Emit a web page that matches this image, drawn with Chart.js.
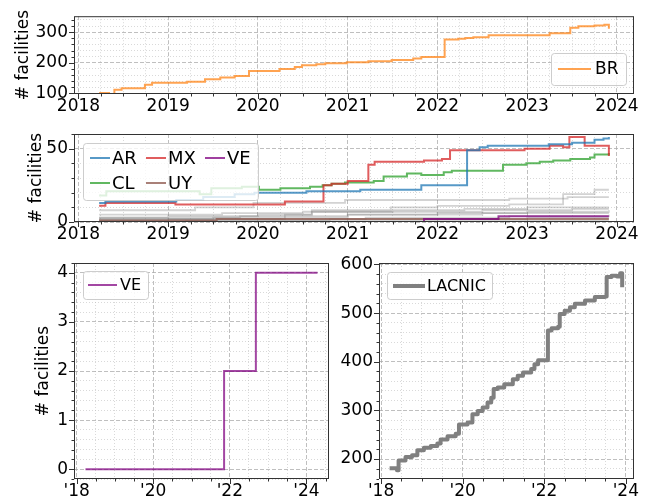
<!DOCTYPE html>
<html>
<head>
<meta charset="utf-8">
<script src="https://cdn.jsdelivr.net/npm/chart.js@4.4.0/dist/chart.umd.min.js"></script>
<style>
  body { margin: 0; background: #fff; }
  .wrap { position: relative; width: 647px; height: 502px; }
  .wrap canvas { position: absolute; left: 0; top: 0; }
</style>
</head>
<body>
<div class="wrap">
  <canvas id="brChart" width="647" height="502"></canvas>
  <canvas id="countryChart" width="647" height="502"></canvas>
  <canvas id="veChart" width="647" height="502"></canvas>
  <canvas id="lacnicChart" width="647" height="502"></canvas>
</div>
<script>
// ---- data (decimal years / facility counts) ----
const brYears = [2018.23, 2018.34, 2018.40, 2018.48, 2018.74, 2018.82, 2019.21, 2019.41, 2019.58, 2019.74, 2019.90, 2020.24, 2020.41, 2020.49, 2020.65, 2020.75, 2020.99, 2021.23, 2021.49, 2021.73, 2021.82, 2022.08, 2022.23, 2022.31, 2022.40, 2022.57, 2023.25, 2023.48, 2023.57, 2023.75, 2023.86, 2023.91];
const brValues = [101, 95, 112, 117, 128, 135, 138, 146, 152, 157, 173, 180, 186, 192, 195, 198, 202, 205, 209, 214, 219, 276, 278, 281, 283, 290, 296, 314, 319, 322, 324, 311];

const arYears = [2018.23, 2018.30, 2019.09, 2019.39, 2019.74, 2019.96, 2020.54, 2021.14, 2021.82, 2022.33, 2022.47, 2022.56, 2023.24, 2023.50, 2023.75, 2023.85, 2023.91];
const arValues = [13, 14, 15, 17, 19, 20, 21, 22, 25, 49, 51, 52, 53, 54, 56, 57, 58];

const mxYears = [2018.23, 2018.30, 2019.08, 2020.30, 2020.73, 2020.82, 2021.00, 2021.23, 2021.30, 2021.85, 2022.05, 2022.14, 2022.97, 2023.25, 2023.40, 2023.47, 2023.64, 2023.91];
const mxValues = [11, 13, 12, 14, 25, 26, 28, 39, 41, 42, 43, 49, 50, 52, 51, 58, 52, 45];

const clYears = [2018.23, 2018.31, 2019.35, 2019.48, 2019.82, 2020.01, 2020.25, 2020.58, 2020.72, 2020.82, 2020.97, 2021.29, 2021.40, 2021.66, 2021.82, 2022.07, 2022.16, 2022.73, 2022.99, 2023.14, 2023.29, 2023.48, 2023.70, 2023.75, 2023.91];
const clValues = [18, 21, 19, 23, 24, 22, 23, 24, 25, 26, 27, 28, 31, 33, 32, 34, 35, 39, 40, 41, 42, 43, 44, 46, 47];

const uyYears = [2018.23, 2019.54, 2023.91];
const uyValues = [1, 2, 2];

const veYears = [2018.23, 2021.85, 2022.68, 2023.91];
const veValues = [0, 2, 4, 4];
const veLongYears = [2018.23, 2021.85, 2022.68, 2024.29];

// the other countries (grey lines)
const otherYears = [
  [2018.23, 2019.30, 2019.95, 2020.97, 2021.82, 2022.80, 2023.45, 2023.91],
  [2018.23, 2019.50, 2020.30, 2020.60, 2021.48, 2022.00, 2022.80, 2023.40, 2023.75, 2023.91],
  [2018.23, 2019.00, 2020.00, 2020.60, 2021.50, 2022.30, 2023.00, 2023.91],
  [2018.23, 2019.60, 2020.50, 2022.50, 2023.50, 2023.91],
  [2018.23, 2019.00, 2020.30, 2021.00, 2022.00, 2023.00, 2023.91],
  [2018.23, 2019.80, 2021.00, 2022.50, 2023.91],
  [2018.23, 2021.20, 2022.80, 2023.91],
  [2018.23, 2020.80, 2023.00, 2023.91],
  [2018.23, 2019.20, 2023.91],
  [2018.23, 2023.91]
];
const otherValues = [
  [8, 10, 13, 15, 15, 16, 17, 17],
  [2, 3, 5, 8, 10, 11, 12, 19, 22, 22],
  [3, 4, 5, 7, 8, 9, 10, 10],
  [5, 6, 7, 8, 9, 9],
  [1, 2, 3, 5, 6, 7, 8],
  [3, 4, 5, 6, 6],
  [2, 3, 4, 5],
  [1, 2, 3, 3],
  [0, 1, 1],
  [0, 0]
];

const lacnicYears = [2018.21, 2018.39, 2018.43, 2018.60, 2018.76, 2018.89, 2019.05, 2019.22, 2019.38, 2019.46, 2019.63, 2019.83, 2019.91, 2020.12, 2020.24, 2020.37, 2020.49, 2020.61, 2020.70, 2020.76, 2020.86, 2021.02, 2021.23, 2021.35, 2021.48, 2021.68, 2021.76, 2021.85, 2022.09, 2022.18, 2022.34, 2022.38, 2022.50, 2022.63, 2022.75, 2023.00, 2023.24, 2023.49, 2023.53, 2023.65, 2023.78, 2023.86, 2023.91];
const lacnicValues = [181, 177, 197, 204, 208, 218, 223, 227, 232, 240, 247, 252, 271, 275, 292, 299, 306, 316, 326, 344, 347, 354, 364, 371, 378, 385, 395, 403, 464, 469, 472, 498, 505, 512, 519, 526, 533, 534, 574, 577, 575, 582, 553];

// tick labels
const yearTicks = [2018, 2019, 2020, 2021, 2022, 2023, 2024];
const yearLabels = ['2018', '2019', '2020', '2021', '2022', '2023', '2024'];
const shortYearTicks = [2018, 2020, 2022, 2024];
const shortYearLabels = ["'18", "'20", "'22", "'24"];
const brTicks = [100, 200, 300];
const countryTicks = [0, 50];
const veTicks = [0, 1, 2, 3, 4];
const lacnicTicks = [200, 300, 400, 500, 600];

// ---- helpers ----
const W = 647, H = 502;
const FONT = 'DejaVu Sans';
const tickFont = { family: FONT, size: 17 };

const pts = (xs, ys) => xs.map((x, i) => ({ x: x, y: ys[i] }));

const stepLine = (label, xs, ys, color, width) => ({
  label: label,
  data: pts(xs, ys),
  borderColor: color,
  borderWidth: width,
  stepped: true,
  pointRadius: 0,
  fill: false,
  tension: 0
});

// major + minor ticks, minor ones flagged
function tickBuilder(majors, step) {
  return scale => {
    const ticks = [];
    const k0 = Math.ceil(scale.min / step - 1e-6);
    const k1 = Math.floor(scale.max / step + 1e-6);
    for (let k = k0; k <= k1; k++) {
      const v = +(k * step).toFixed(6);
      ticks.push({ value: v, minor: !majors.some(m => Math.abs(m - v) < 1e-6) });
    }
    scale.ticks = ticks;
  };
}
function tickLabel(majors, labels) {
  return value => {
    const i = majors.findIndex(m => Math.abs(m - value) < 1e-6);
    return i < 0 ? '' : labels[i];
  };
}

const isMinor = c => c.tick && c.tick.minor;

// frame + outward tick marks like matplotlib
const frameTicks = {
  id: 'frameTicks',
  afterDraw(chart) {
    const { ctx, chartArea: a, scales } = chart;
    ctx.save();
    ctx.strokeStyle = '#333';
    ctx.lineWidth = 1;
    ctx.strokeRect(a.left + 0.5, a.top + 0.5, a.right - a.left - 1, a.bottom - a.top - 1);
    ctx.beginPath();
    scales.x.ticks.forEach(t => {
      const px = Math.round(scales.x.getPixelForValue(t.value)) + 0.5;
      ctx.moveTo(px, a.bottom);
      ctx.lineTo(px, a.bottom + (t.minor ? 2.5 : 5));
    });
    scales.y.ticks.forEach(t => {
      const py = Math.round(scales.y.getPixelForValue(t.value)) + 0.5;
      ctx.moveTo(a.left, py);
      ctx.lineTo(a.left - (t.minor ? 2.5 : 5), py);
    });
    ctx.stroke();
    ctx.restore();
  }
};

// legend drawn inside the plot area
const insideLegend = {
  id: 'insideLegend',
  afterDraw(chart, args, opts) {
    if (!opts || !opts.box) return;
    const ctx = chart.ctx;
    const b = opts.box;
    ctx.save();
    ctx.beginPath();
    ctx.roundRect(b.x + 0.5, b.y + 0.5, b.w, b.h, 3);
    ctx.fillStyle = 'rgba(255,255,255,0.8)';
    ctx.fill();
    ctx.strokeStyle = 'rgba(200,200,200,0.9)';
    ctx.lineWidth = 1;
    ctx.stroke();
    ctx.font = opts.fontSize + 'px "' + FONT + '"';
    ctx.textBaseline = 'middle';
    const shown = chart.data.datasets.filter(d => d.label);
    shown.forEach((d, i) => {
      const lx = b.x + opts.slots[i][0];
      const ly = b.y + opts.slots[i][1];
      ctx.beginPath();
      ctx.strokeStyle = d.borderColor;
      ctx.lineWidth = d.borderWidth;
      ctx.moveTo(lx, ly);
      ctx.lineTo(lx + opts.handle, ly);
      ctx.stroke();
      ctx.fillStyle = '#000';
      ctx.fillText(d.label, lx + opts.handle + opts.gap, ly + 1);
    });
    ctx.restore();
  }
};

function makeChart(id, c) {
  const gridStyle = () => ({
    drawTicks: false,
    lineWidth: 1,
    color: ctx => isMinor(ctx) ? 'rgba(185,185,185,0.55)' : 'rgba(170,170,170,0.75)'
  });
  const borderStyle = () => ({
    display: false,
    dash: ctx => isMinor(ctx) ? [1, 2] : [4, 2]
  });
  return new Chart(document.getElementById(id), {
    type: 'line',
    data: { datasets: c.datasets },
    plugins: [frameTicks, insideLegend],
    options: {
      responsive: false,
      animation: false,
      devicePixelRatio: 1,
      events: [],
      layout: {
        padding: { left: c.padLeft, top: c.area.top, right: W - c.area.right, bottom: H - c.area.bottom - 30 }
      },
      plugins: {
        legend: { display: false },
        tooltip: { enabled: false },
        insideLegend: c.legend
      },
      scales: {
        x: {
          type: 'linear',
          min: c.xMin,
          max: c.xMax,
          afterFit: s => { s.height = 30; },
          afterBuildTicks: tickBuilder(c.xMajor, c.xStep),
          ticks: { callback: tickLabel(c.xMajor, c.xLabels), autoSkip: false, maxRotation: 0, padding: 2, color: '#000', font: tickFont },
          grid: gridStyle(),
          border: borderStyle()
        },
        y: {
          type: 'linear',
          min: c.yMin,
          max: c.yMax,
          afterFit: s => { s.width = c.area.left - c.padLeft; },
          afterBuildTicks: tickBuilder(c.yMajor, c.yStep),
          ticks: { callback: tickLabel(c.yMajor, c.yMajor.map(String)), autoSkip: false, padding: 6, color: '#000', font: tickFont },
          grid: gridStyle(),
          border: borderStyle(),
          title: c.titlePad === undefined ? { display: false } : {
            display: true, text: '# facilities', color: '#000',
            font: { family: FONT, size: 17 }, padding: { top: c.titlePad, bottom: 0 }
          }
        }
      }
    }
  });
}

// ---- top: BR ----
makeChart('brChart', {
  area: { left: 74, top: 5, right: 634, bottom: 94 },
  padLeft: 0,
  xMin: 2017.95, xMax: 2024.19, xMajor: yearTicks, xLabels: yearLabels, xStep: 0.25,
  yMin: 98, yMax: 352, yMajor: brTicks, yStep: 20,
  titlePad: 13,
  datasets: [stepLine('BR', brYears, brValues, 'rgba(255,127,14,0.72)', 2)],
  legend: { box: { x: 551, y: 53, w: 75, h: 32 }, slots: [[7, 16]], handle: 33, gap: 4, fontSize: 17 }
});

// ---- middle: countries ----
const countryDatasets = [
  stepLine('AR', arYears, arValues, 'rgba(31,119,180,0.75)', 2),
  stepLine('MX', mxYears, mxValues, 'rgba(214,39,40,0.75)', 2),
  stepLine('VE', veYears, veValues, 'rgba(128,0,128,0.75)', 2),
  stepLine('CL', clYears, clValues, 'rgba(44,160,44,0.75)', 2),
  stepLine('UY', uyYears, uyValues, 'rgba(140,86,75,0.75)', 2)
];
otherYears.forEach((ys, i) => {
  countryDatasets.push(stepLine('', ys, otherValues[i], 'rgba(128,128,128,0.35)', 1.8));
});
makeChart('countryChart', {
  area: { left: 74, top: 134, right: 634, bottom: 222 },
  padLeft: 0,
  xMin: 2017.95, xMax: 2024.19, xMajor: yearTicks, xLabels: yearLabels, xStep: 0.25,
  yMin: 0, yMax: 60, yMajor: countryTicks, yStep: 10,
  titlePad: 26,
  datasets: countryDatasets,
  legend: { box: { x: 83, y: 143, w: 175, h: 57 }, slots: [[7, 15], [63, 15], [122, 15], [7, 40], [63, 40]], handle: 20, gap: 2, fontSize: 18 }
});

// ---- bottom left: VE ----
makeChart('veChart', {
  area: { left: 74, top: 263, right: 329, bottom: 479 },
  padLeft: 0,
  xMin: 2017.93, xMax: 2024.59, xMajor: shortYearTicks, xLabels: shortYearLabels, xStep: 0.5,
  yMin: -0.2, yMax: 4.2, yMajor: veTicks, yStep: 0.2,
  titlePad: 33,
  datasets: [stepLine('VE', veLongYears, veValues, 'rgba(128,0,128,0.72)', 2)],
  legend: { box: { x: 83, y: 271, w: 65, h: 28 }, slots: [[5, 14]], handle: 29, gap: 3, fontSize: 16 }
});

// ---- bottom right: LACNIC ----
const lacnicLine = stepLine('LACNIC', lacnicYears, lacnicValues, '#808080', 4);
lacnicLine.borderJoinStyle = 'round';
makeChart('lacnicChart', {
  area: { left: 379, top: 263, right: 634, bottom: 479 },
  padLeft: 330,
  xMin: 2017.95, xMax: 2024.2, xMajor: shortYearTicks, xLabels: shortYearLabels, xStep: 0.5,
  yMin: 159, yMax: 603, yMajor: lacnicTicks, yStep: 20,
  datasets: [lacnicLine],
  legend: { box: { x: 387, y: 272, w: 105, h: 27 }, slots: [[6, 14]], handle: 32, gap: 2, fontSize: 16 }
});
</script>
</body>
</html>
